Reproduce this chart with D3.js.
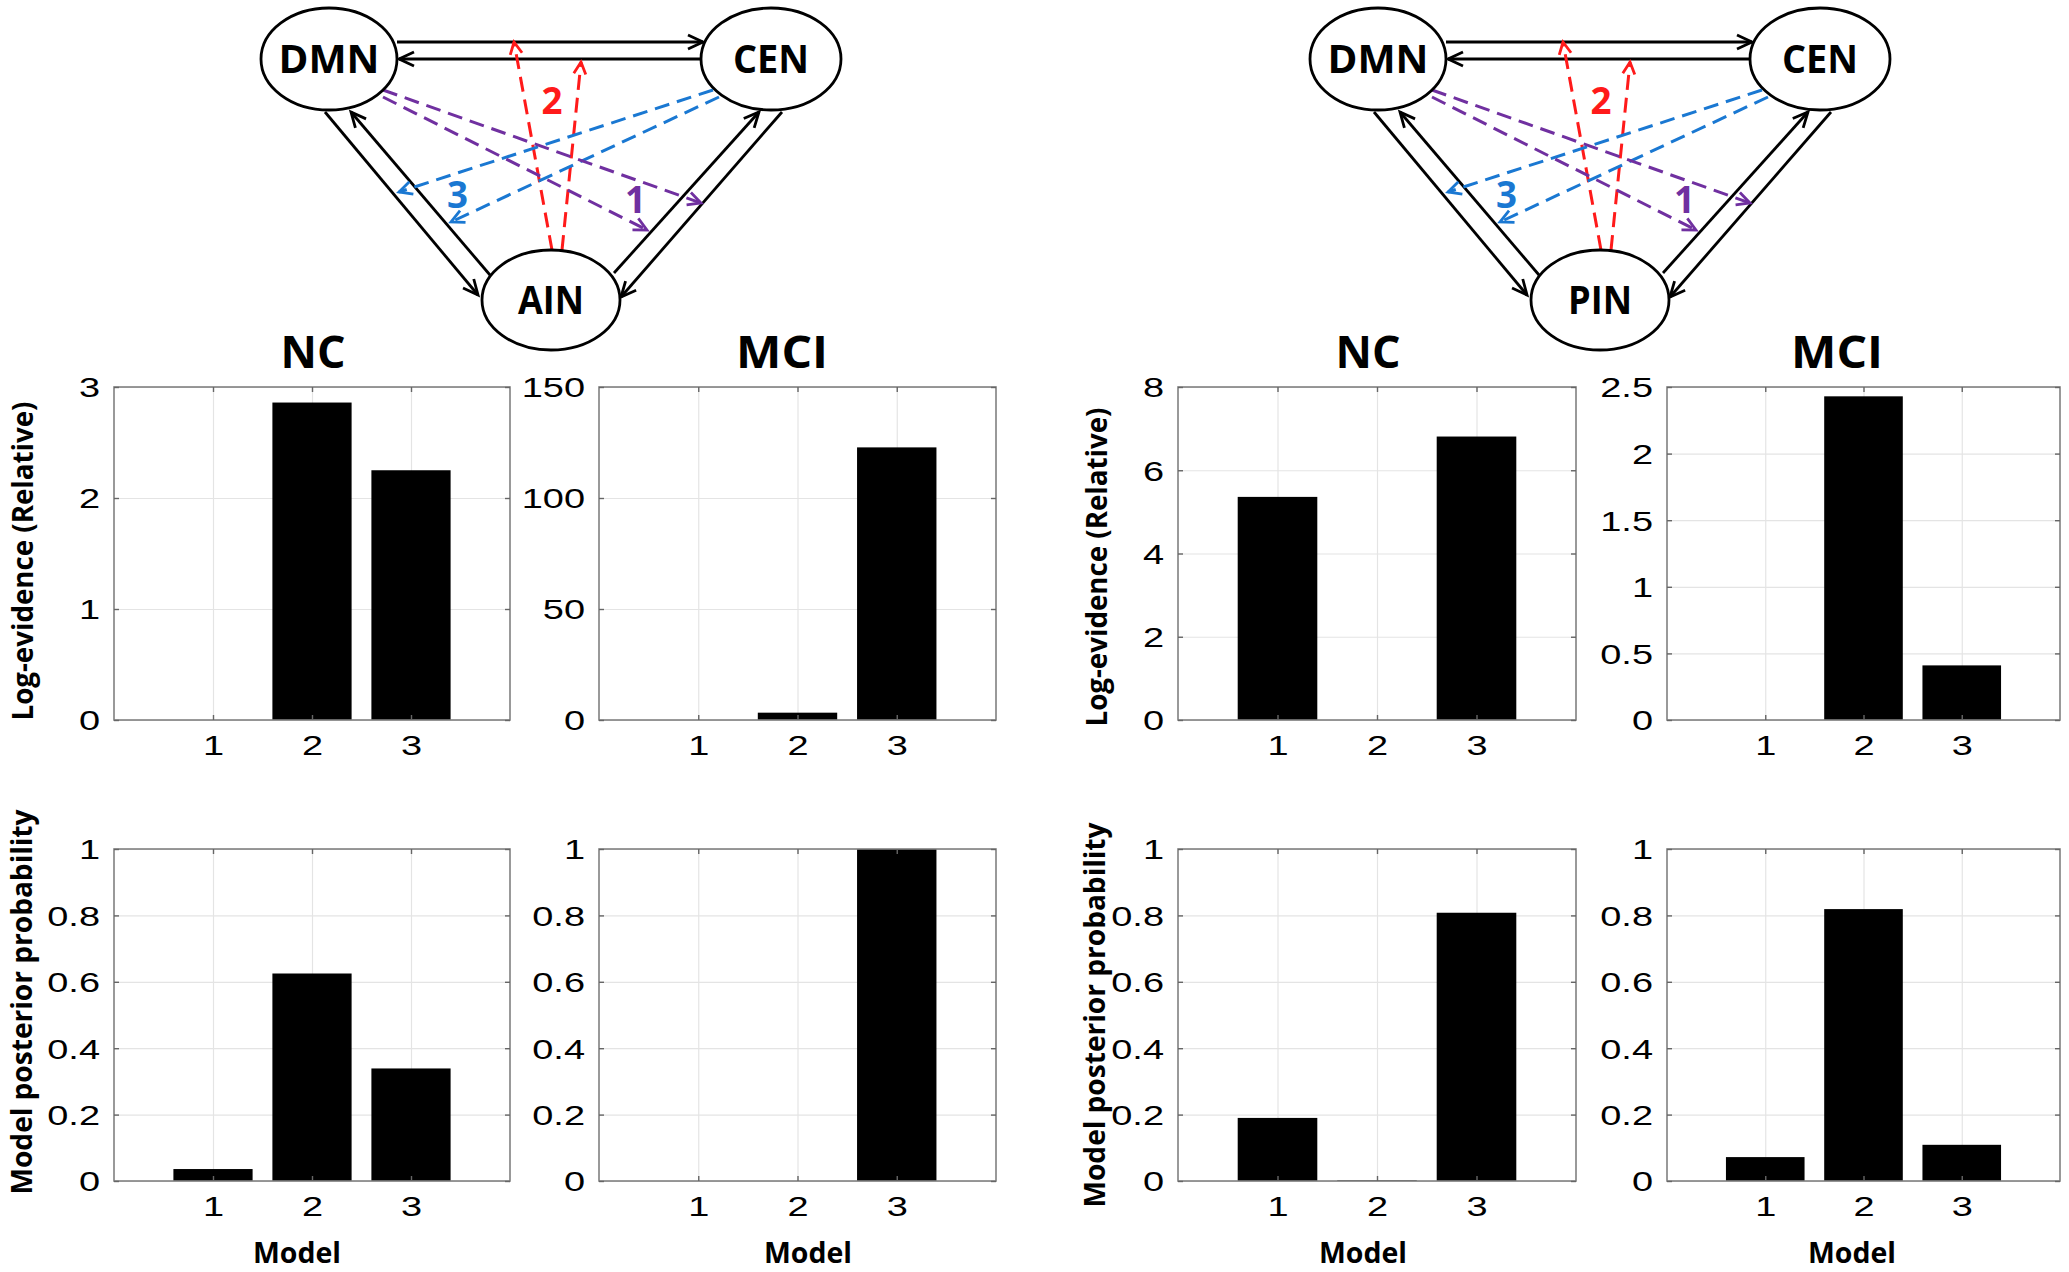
<!DOCTYPE html>
<html><head><meta charset="utf-8">
<script src="https://cdn.jsdelivr.net/npm/d3@7"></script>
<style>body{margin:0;background:#fff}svg{display:block}</style>
</head><body><svg id="fig" width="2069" height="1272"></svg>
<script>
// ---------------- DATA ----------------
const models = [1, 2, 3];
// AIN network (left)
const ainLogEvNC  = [0, 2.86, 2.25];
const ainLogEvMCI = [0, 3.3, 122.8];
const ainProbNC   = [0.036, 0.625, 0.339];
const ainProbMCI  = [0, 0, 1.0];
// PIN network (right)
const pinLogEvNC  = [5.36, 0, 6.81];
const pinLogEvMCI = [0, 2.43, 0.41];
const pinProbNC   = [0.19, 0.002, 0.808];
const pinProbMCI  = [0.072, 0.819, 0.109];
// tick labels
const ticksAinNC  = [0, 1, 2, 3];
const ticksAinMCI = [0, 50, 100, 150];
const ticksPinNC  = [0, 2, 4, 6, 8];
const ticksPinMCI = [0, 0.5, 1, 1.5, 2, 2.5];
const ticksProb   = [0, 0.2, 0.4, 0.6, 0.8, 1];
const groupTitles = ["NC", "MCI", "NC", "MCI"];
const yLabelEv = "Log-evidence (Relative)";
const yLabelProb = "Model posterior probability";
const xLabel = "Model";
const networkNames = [["DMN", "CEN", "AIN"], ["DMN", "CEN", "PIN"]];
const modelTags = ["1", "2", "3"];

// ---------------- LAYOUT ----------------
const svg = d3.select("#fig");
svg.append("rect").attr("width", 2069).attr("height", 1272).attr("fill", "#fff");
const colX = [[114, 510], [599, 996], [1178, 1576], [1667, 2060]];
const rowY = [[387, 720], [849, 1181]];
const titleX = [313, 782, 1368, 1837];
const xLabelX = [297, 808, 1363, 1852];
const boldFont = "'Open Sans', Lato, sans-serif";
const tickFont = "'Liberation Sans', Arial, sans-serif";
const tickStretch = 1.38;

const panels = [
  {col: 0, row: 0, vals: ainLogEvNC,  ticks: ticksAinNC},
  {col: 1, row: 0, vals: ainLogEvMCI, ticks: ticksAinMCI},
  {col: 2, row: 0, vals: pinLogEvNC,  ticks: ticksPinNC},
  {col: 3, row: 0, vals: pinLogEvMCI, ticks: ticksPinMCI},
  {col: 0, row: 1, vals: ainProbNC,   ticks: ticksProb},
  {col: 1, row: 1, vals: ainProbMCI,  ticks: ticksProb},
  {col: 2, row: 1, vals: pinProbNC,   ticks: ticksProb},
  {col: 3, row: 1, vals: pinProbMCI,  ticks: ticksProb}
];

const fmt = d3.format("~g");

panels.forEach(p => {
  const [x0, x1] = colX[p.col];
  const [y0, y1] = rowY[p.row];
  const x = d3.scaleLinear().domain([0, 4]).range([x0, x1]);
  const y = d3.scaleLinear().domain([0, d3.max(p.ticks)]).range([y1, y0]);
  const g = svg.append("g");

  // grid
  g.append("g").attr("transform", `translate(${x0},0)`)
    .call(d3.axisLeft(y).tickValues(p.ticks).tickSize(-(x1 - x0)).tickFormat(""))
    .call(s => s.select(".domain").remove())
    .call(s => s.selectAll("line").attr("stroke", "#e4e4e4").attr("stroke-width", 1.2));
  g.append("g").attr("transform", `translate(0,${y1})`)
    .call(d3.axisBottom(x).tickValues(models).tickSize(-(y1 - y0)).tickFormat(""))
    .call(s => s.select(".domain").remove())
    .call(s => s.selectAll("line").attr("stroke", "#e4e4e4").attr("stroke-width", 1.2));

  // bars
  g.selectAll("rect.bar").data(p.vals).join("rect").attr("class", "bar")
    .attr("x", (d, i) => x(models[i] - 0.4))
    .attr("width", (d, i) => x(models[i] + 0.4) - x(models[i] - 0.4))
    .attr("y", d => y(d))
    .attr("height", d => y(0) - y(d))
    .attr("fill", "#000");

  // box
  g.append("rect").attr("x", x0).attr("y", y0).attr("width", x1 - x0).attr("height", y1 - y0)
    .attr("fill", "none").attr("stroke", "#808080").attr("stroke-width", 1.6);

  // inner tick marks (MATLAB style)
  const tickStyle = s => { s.select(".domain").remove(); s.selectAll("line").attr("stroke", "#666").attr("stroke-width", 1.4); };
  g.append("g").attr("transform", `translate(${x0},0)`)
    .call(d3.axisLeft(y).tickValues(p.ticks).tickSize(-5).tickFormat("")).call(tickStyle);
  g.append("g").attr("transform", `translate(${x1},0)`)
    .call(d3.axisRight(y).tickValues(p.ticks).tickSize(-5).tickFormat("")).call(tickStyle);
  g.append("g").attr("transform", `translate(0,${y1})`)
    .call(d3.axisBottom(x).tickValues(models).tickSize(-5).tickFormat("")).call(tickStyle);
  g.append("g").attr("transform", `translate(0,${y0})`)
    .call(d3.axisTop(x).tickValues(models).tickSize(-5).tickFormat("")).call(tickStyle);

  // tick labels
  g.append("g").attr("transform", `translate(${x0},0)`)
    .call(d3.axisLeft(y).tickValues(p.ticks).tickSize(0).tickFormat(fmt))
    .call(s => s.select(".domain").remove())
    .call(s => s.selectAll("text")
      .attr("x", -14 / tickStretch).attr("dy", "0.36em")
      .attr("transform", `scale(${tickStretch},1)`)
      .attr("font-family", tickFont).attr("font-size", 27.5).attr("fill", "#000"));
  g.append("g").attr("transform", `translate(0,${y1})`)
    .call(d3.axisBottom(x).tickValues(models).tickSize(0).tickFormat(fmt))
    .call(s => s.select(".domain").remove())
    .call(s => s.selectAll(".tick").each(function() {
      const t = d3.select(this);
      const tr = t.attr("transform");
      const tx = +tr.match(/translate\(([-\d.]+)/)[1];
      t.attr("transform", `translate(${tx},0) scale(${tickStretch},1)`);
    }))
    .call(s => s.selectAll("text")
      .attr("y", 35).attr("dy", 0)
      .attr("font-family", tickFont).attr("font-size", 27.5).attr("fill", "#000"));

  // titles
  if (p.row === 0) {
    svg.append("text").attr("x", titleX[p.col]).attr("y", 368)
      .attr("text-anchor", "middle").attr("font-family", boldFont).attr("font-weight", 700)
      .attr("font-size", 45).attr("textLength", groupTitles[p.col] === "NC" ? 65 : 92)
      .attr("lengthAdjust", "spacingAndGlyphs").text(groupTitles[p.col]);
  } else {
    svg.append("text").attr("x", xLabelX[p.col]).attr("y", 1263)
      .attr("text-anchor", "middle").attr("font-family", boldFont).attr("font-weight", 700)
      .attr("font-size", 28).attr("textLength", 88).attr("lengthAdjust", "spacingAndGlyphs")
      .text(xLabel);
  }
  // y labels
  if (p.col === 0 || p.col === 2) {
    const bx = p.col === 0 ? (p.row === 0 ? 33 : 32) : (p.row === 0 ? 1107 : 1105);
    const cy = p.col === 0 ? (p.row === 0 ? 561 : 1002) : (p.row === 0 ? 567 : 1015);
    const len = p.row === 0 ? 319 : 385;
    svg.append("text").attr("transform", `translate(${bx},${cy}) rotate(-90)`)
      .attr("text-anchor", "middle").attr("font-family", boldFont).attr("font-weight", 700)
      .attr("font-size", 28).attr("textLength", len).attr("lengthAdjust", "spacingAndGlyphs")
      .text(p.row === 0 ? yLabelEv : yLabelProb);
  }
});

// ---------------- NETWORK DIAGRAMS ----------------
const defs = svg.append("defs");
function mk(id, color, L, W) {
  defs.append("marker").attr("id", id).attr("markerUnits", "userSpaceOnUse")
    .attr("viewBox", "-20 -10 24 20").attr("refX", 0).attr("refY", 0)
    .attr("markerWidth", 24).attr("markerHeight", 20).attr("orient", "auto")
    .append("path").attr("d", `M${-L},${-W}L0,0L${-L},${W}`)
    .attr("fill", "none").attr("stroke", color).attr("stroke-width", 2.8)
    .attr("stroke-linejoin", "miter");
}
const colBlack = "#000", colRed = "#ff1a1a", colBlue = "#1a78d2", colPurple = "#7030a0";
mk("aBlack", colBlack, 15, 7);
mk("aRed", colRed, 12, 6);
mk("aBlue", colBlue, 13, 6.5);
mk("aPurple", colPurple, 13, 6.5);

// diagram geometry in local coordinates of the left diagram
const nodePos = [[329, 59], [771, 59], [551, 300]];
const nodeR = [[68, 51], [70, 51], [69, 50]];
const edges = [
  // [x1,y1,x2,y2,color,marker,dashed]
  [397, 42, 703, 42, colBlack, "aBlack", false],
  [701, 59, 399, 59, colBlack, "aBlack", false],
  [325, 112, 478, 295, colBlack, "aBlack", false],
  [490, 275, 351, 112, colBlack, "aBlack", false],
  [614, 273, 759, 112, colBlack, "aBlack", false],
  [782, 112, 621, 297, colBlack, "aBlack", false],
  [552, 250, 514, 42, colRed, "aRed", true],
  [562, 250, 581, 62, colRed, "aRed", true],
  [713, 90, 399, 192, colBlue, "aBlue", true],
  [719, 97, 451, 222, colBlue, "aBlue", true],
  [383, 90, 701, 203, colPurple, "aPurple", true],
  [383, 97, 647, 230, colPurple, "aPurple", true]
];
const tagPos = [[635.5, 213, colPurple], [552, 114, colRed], [457.5, 208, colBlue]];
const nodeTextLen = {DMN: 101, CEN: 76, AIN: 66, PIN: 64};

[0, 1049].forEach((off, di) => {
  const dx = d3.scaleLinear().domain([0, 1]).range([off, off + 1]);
  const g = svg.append("g");
  edges.forEach(e => {
    g.append("line").attr("x1", dx(e[0])).attr("y1", e[1]).attr("x2", dx(e[2])).attr("y2", e[3])
      .attr("stroke", e[4]).attr("stroke-width", e[6] ? 3 : 2.8)
      .attr("stroke-dasharray", e[6] ? "15,8" : null)
      .attr("marker-end", `url(#${e[5]})`);
  });
  tagPos.forEach((t, i) => {
    g.append("text").attr("x", dx(t[0])).attr("y", t[1]).attr("text-anchor", "middle")
      .attr("font-family", boldFont).attr("font-weight", 700).attr("font-size", 37)
      .attr("textLength", 21).attr("lengthAdjust", "spacingAndGlyphs")
      .attr("fill", t[2]).text(modelTags[i]);
  });
  nodePos.forEach((n, i) => {
    g.append("ellipse").attr("cx", dx(n[0])).attr("cy", n[1]).attr("rx", nodeR[i][0]).attr("ry", nodeR[i][1])
      .attr("fill", "#fff").attr("stroke", "#000").attr("stroke-width", 2.8);
    const name = networkNames[di][i];
    g.append("text").attr("x", dx(n[0])).attr("y", n[1] + 14).attr("text-anchor", "middle")
      .attr("font-family", boldFont).attr("font-weight", 700).attr("font-size", 40)
      .attr("textLength", nodeTextLen[name]).attr("lengthAdjust", "spacingAndGlyphs")
      .text(name);
  });
});
</script>
</body></html>
